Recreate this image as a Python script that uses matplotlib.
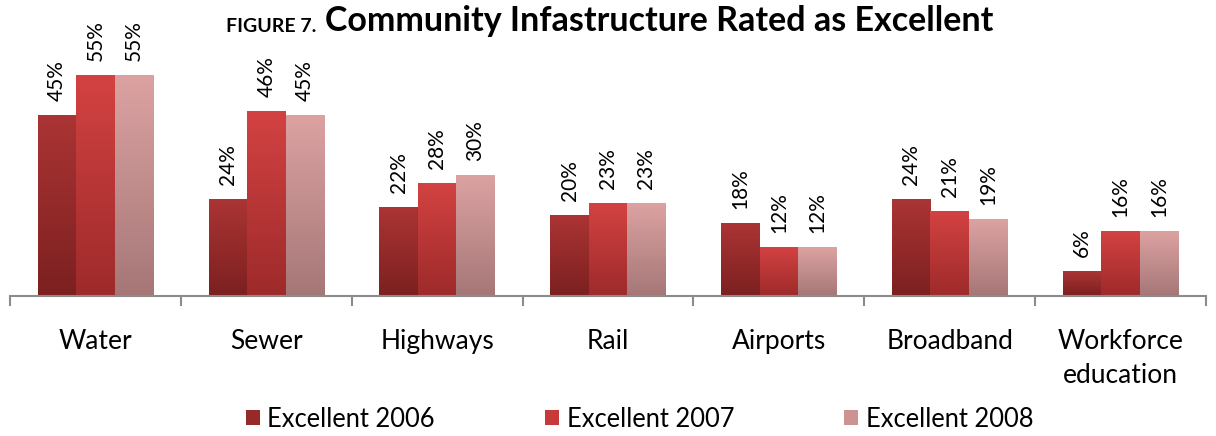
import numpy as np
import matplotlib.pyplot as plt
from matplotlib.colors import LinearSegmentedColormap
from matplotlib.patches import Patch

plt.rcParams['font.family'] = ['Lato', 'DejaVu Sans']

categories = ['Water', 'Sewer', 'Highways', 'Rail', 'Airports', 'Broadband', 'Workforce\neducation']
series_names = ['Excellent 2006', 'Excellent 2007', 'Excellent 2008']
v2006 = [45, 24, 22, 20, 18, 24, 6]
v2007 = [55, 46, 28, 23, 12, 21, 16]
v2008 = [55, 45, 30, 23, 12, 19, 16]

# (top colour, bottom colour) for each series
grads = [('#ab3434', '#7c2020'), ('#d34242', '#9e2a2a'), ('#dca2a2', '#a67777')]
legend_cols = ['#962a2a', '#c83a3a', '#cd9393']

fig = plt.figure(figsize=(12.16, 4.36), dpi=100)
ax = fig.add_axes([10 / 1216, 140 / 436, 1196 / 1216, 241 / 436])

x = np.arange(len(categories))
w = 0.225
for i, vals in enumerate([v2006, v2007, v2008]):
    bars = ax.bar(x + (i - 1) * w, vals, w, color='none', edgecolor='none', zorder=2)
    cmap = LinearSegmentedColormap.from_list('g%d' % i, [grads[i][1], grads[i][0]])
    for b, v in zip(bars, vals):
        x0, y0 = b.get_x(), b.get_y()
        ax.imshow(np.linspace(0, 1, 100).reshape(-1, 1), cmap=cmap, origin='lower',
                  extent=(x0, x0 + b.get_width(), y0, y0 + b.get_height()),
                  aspect='auto', zorder=2, interpolation='bilinear')
        ax.text(x0 + b.get_width() / 2, v + 3.6, '%d%%' % v, rotation=90,
                ha='center', va='bottom', fontsize=15, color='black')

ax.set_xlim(-0.5, len(categories) - 0.5)
ax.set_ylim(0, 60)
ax.set_yticks([])
for s in ['top', 'right', 'left']:
    ax.spines[s].set_visible(False)
ax.spines['bottom'].set_color('#8c8c8c')
ax.spines['bottom'].set_linewidth(1.5)

ax.set_xticks(np.arange(-0.5, len(categories)), minor=False)
ax.set_xticklabels([])
ax.tick_params(axis='x', which='major', direction='out', length=7, width=1.5, color='#8c8c8c')
ax.set_xticks(x, minor=True)
ax.set_xticklabels(categories, minor=True, fontsize=19, linespacing=1.45, va='top')
ax.tick_params(axis='x', which='minor', length=0, pad=24)

fig.text(226 / 1216, 1 - 27 / 436, 'FIGURE 7.', fontsize=14, fontweight='bold',
         ha='left', va='center')
fig.text(325 / 1216, 1 - 21 / 436, 'Community Infastructure Rated as Excellent',
         fontsize=24.5, fontweight='bold', ha='left', va='center')

handles = [Patch(facecolor=c, edgecolor='none') for c in legend_cols]
fig.legend(handles, series_names, loc='center', bbox_to_anchor=(0.526, 1 - 419 / 436),
           ncol=3, frameon=False, fontsize=18.4, handlelength=0.55, handleheight=0.55,
           handletextpad=0.3, columnspacing=4.3, borderpad=0, borderaxespad=0)

fig.savefig('out.png', dpi=100)
